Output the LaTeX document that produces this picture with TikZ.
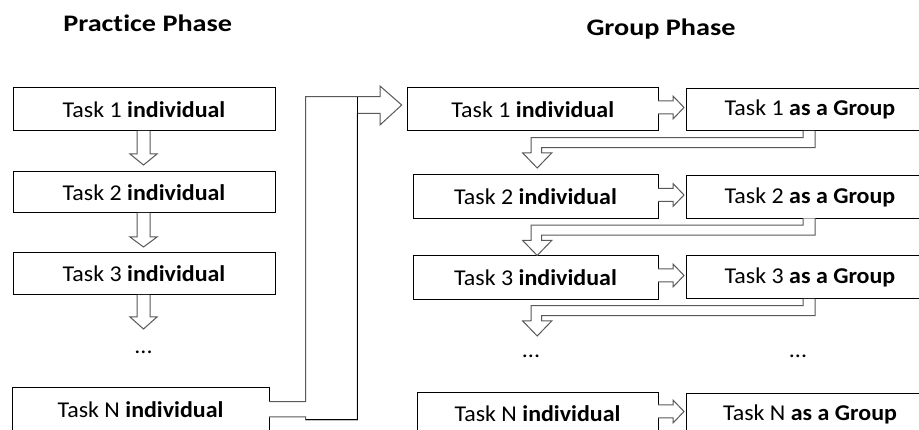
\documentclass[tikz,border=0pt]{standalone}
\usepackage{fontspec}
\setmainfont{Carlito}[FakeStretch=1.06, Ligatures=NoCommon]
\newfontfamily\titlefont{Carlito}[FakeStretch=1.19, Ligatures=NoCommon]
\usetikzlibrary{calc}
\tikzset{
  taskbox/.style={draw=black, line width=1pt, fill=white, inner sep=0pt,
    font=\fontsize{22.6}{27}\selectfont},
  blk/.style={draw=black!65, line width=1pt, fill=white, line join=miter},
  title/.style={anchor=base, inner sep=0pt, font=\titlefont\bfseries\fontsize{23.7}{28}\selectfont},
  dots/.style={inner sep=0pt, font=\fontsize{22.6}{27}\selectfont}
}
\begin{document}
\begin{tikzpicture}[x=1pt,y=-1pt]
\useasboundingbox (0,0) rectangle (919,430);
\clip (0,0) rectangle (919,430);
\fill[white] (0,0) rectangle (919,430);

% titles
\node[title] (tp) at (147.7,31.7) {Practice Phase};
\node[title] (tg) at (661,35.5) {Group Phase};

% left column
\node[taskbox, minimum width=262pt, minimum height=43pt] (L1) at (144,109.5) {Task 1 \textbf{individual}};
\node[taskbox, minimum width=262pt, minimum height=41pt] (L2) at (144,192.5) {Task 2 \textbf{individual}};
\node[taskbox, minimum width=262pt, minimum height=42pt] (L3) at (144,274) {Task 3 \textbf{individual}};
\node[dots] (Ld) at (143.5,352) {...};
\node[taskbox, minimum width=257pt, minimum height=43pt] (LN) at (140.5,409.5) {Task N \textbf{individual}};

% right individual column
\node[taskbox, minimum width=250.5pt, minimum height=43pt] (R1) at (532.75,109.5) {Task 1 \textbf{individual}};
\node[taskbox, minimum width=245pt, minimum height=44pt] (R2) at (535.5,197) {Task 2 \textbf{individual}};
\node[taskbox, minimum width=245pt, minimum height=44pt] (R3) at (535.5,277.5) {Task 3 \textbf{individual}};
\node[dots] (Rd) at (531,356) {...};
\node[taskbox, minimum width=241pt, minimum height=41pt] (RN) at (537.5,413.5) {Task N \textbf{individual}};

% group column
\node[taskbox, minimum width=248pt, minimum height=42.5pt] (G1) at (810,109.75) {Task 1 \textbf{as a Group}};
\node[taskbox, minimum width=248pt, minimum height=42.5pt] (G2) at (810,197.25) {Task 2 \textbf{as a Group}};
\node[taskbox, minimum width=248pt, minimum height=43.5pt] (G3) at (810,277.25) {Task 3 \textbf{as a Group}};
\node[dots] (Gd) at (798,356) {...};
\node[taskbox, minimum width=248pt, minimum height=41pt] (GN) at (810,414.5) {Task N \textbf{as a Group}};

% left down arrows
\foreach \t/\h/\tp in {131/154/165, 213/237/247, 295/317/329}{
  \draw[blk] (137,\t) -- (137,\h) -- (130,\h) -- (143.5,\tp) -- (157,\h) -- (150,\h) -- (150,\t);
}

% individual -> group arrows
\foreach \yc in {107.5, 195, 275.5, 411.5}{
  \draw[blk] (658,\yc-6.5) -- (673,\yc-6.5) -- (673,\yc-11.5) -- (684,\yc) -- (673,\yc+11.5) -- (673,\yc+6.5) -- (658,\yc+6.5);
}

% group -> next individual return arrows
\foreach \b in {131, 218.5, 299}{
  \draw[blk] (803,\b) -- (803,\b+6.7) -- (531,\b+6.7) -- (531,\b+22) -- (522.7,\b+22)
    -- (537.2,\b+37) -- (551.7,\b+22) -- (541.7,\b+22) -- (541.7,\b+16.7) -- (815,\b+16.7) -- (815,\b);
}

% big connector from practice to group phase
\draw[blk] (269,401.7) -- (305.7,401.7) -- (305.7,96.7) -- (380,96.7) -- (380,86)
  -- (401.7,105) -- (380,125) -- (380,113.3) -- (357.3,113.3) -- (357.3,420)
  -- (305.7,420) -- (305.7,417) -- (269,417);
\draw[black, line width=1pt] (357.3,96.7) -- (357.3,420) -- (305.7,420);
\end{tikzpicture}
\end{document}
